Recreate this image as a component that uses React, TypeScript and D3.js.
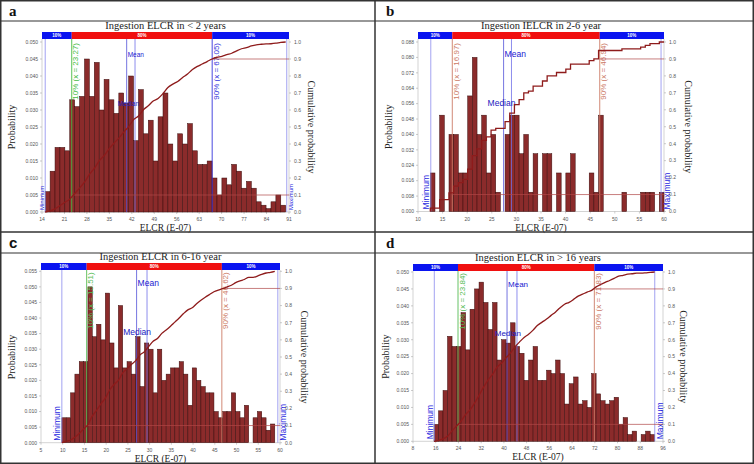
import React from "react";
import * as d3 from "d3";

const W = 754;
const H = 464;

// ---------- data ----------
const panelIds = ["a", "b", "c", "d"];
const titles = [
  "Ingestion ELCR in < 2 years",
  "Ingestion IELCR  in 2-6 year",
  "Ingestion ELCR in 6-16 year",
  "Ingestion ELCR in > 16 years",
];
const aProb = [
  0.006, 0.012, 0.019, 0.019, 0.018, 0.033, 0.031, 0.034, 0.045, 0.034, 0.044, 0.030, 0.039, 0.033, 0.029,
  0.035, 0.032, 0.040, 0.021, 0.036, 0.023, 0.027, 0.015, 0.028, 0.035, 0.020, 0.015, 0.023, 0.020, 0.026,
  0.018, 0.014, 0.014, 0.015, 0.010, 0.005, 0.010, 0.008, 0.014, 0.012, 0.007, 0.009, 0.007, 0.003, 0.002,
  0.001, 0.003, 0.005, 0.002,
];
const bProb = [
  0.02, 0, 0.05, 0, 0.04, 0.04, 0.02, 0.02, 0.06, 0.08, 0.04, 0.05, 0.02, 0.04, 0.01, 0, 0.04, 0.05, 0.05,
  0.03, 0.04, 0.01, 0.03, 0, 0.03, 0.03, 0, 0.02, 0, 0.02, 0.03, 0, 0, 0, 0.02, 0.01, 0.05, 0, 0, 0, 0, 0.01,
  0, 0, 0, 0.01, 0.01, 0.01, 0, 0.01,
];
const cProb = [
  0.008, 0.008, 0.016, 0.022, 0.026, 0.026, 0.050, 0.034, 0.038, 0.033, 0.048, 0.032, 0.024, 0.044, 0.024,
  0.026, 0.022, 0.034, 0.018, 0.032, 0.030, 0.016, 0.030, 0.020, 0.022, 0.024, 0.024, 0.026, 0.022, 0.012,
  0.024, 0.020, 0.018, 0.016, 0.016, 0.010, 0.008, 0.010, 0.010, 0.016, 0.010, 0.008, 0.012, 0, 0.008, 0.010,
  0.008, 0.004, 0.006,
];
const dProb = [
  0.005, 0.009, 0.015, 0.031, 0.028, 0.028, 0.038, 0.027, 0.039, 0.045, 0.047, 0.041, 0.033, 0.041, 0.024,
  0.030, 0.029, 0.035, 0.028, 0.026, 0.018, 0.024, 0.028, 0.018, 0.018, 0.021, 0.020, 0.024, 0.020, 0.011,
  0.017, 0.019, 0.011, 0.012, 0.010, 0.020, 0.014, 0.012, 0.011, 0.012, 0.013, 0.005, 0.007, 0.002, 0.003, 0,
  0.002, 0.003, 0.002,
];
const probSeries = [aProb, bProb, cProb, dProb];
const binStart = [15, 12.5, 9.8, 15.4];
const binWidth = [1.53, 0.95, 1.0, 1.585];
const xDomains = [[14, 91], [10, 60], [5, 60], [8, 96]];
const aTicks = [14, 21, 28, 35, 42, 49, 56, 63, 70, 77, 84, 91];
const bTicks = [10, 15, 20, 25, 30, 35, 40, 45, 50, 55, 60];
const cTicks = [5, 10, 15, 20, 25, 30, 35, 40, 45, 50, 55, 60];
const dTicks = [8, 16, 24, 32, 40, 48, 56, 64, 72, 80, 88, 96];
const xTickSets = [aTicks, bTicks, cTicks, dTicks];
const yMax = [0.05, 0.088, 0.055, 0.05];
const yStep = [0.005, 0.008, 0.005, 0.005];
const cumTicks = [0, 0.1, 0.2, 0.3, 0.4, 0.5, 0.6, 0.7, 0.8, 0.9, 1.0];
const p10 = [23.27, 16.97, 15.51, 23.84];
const p90 = [67.05, 46.94, 46.62, 71.83];
const minVals = [15.0, 12.6, 9.8, 15.5];
const maxVals = [90.3, 59.4, 59.5, 93.1];
const medians = [40.4, 27.4, 27.0, 41.1];
const means = [43.0, 29.0, 29.4, 44.6];
const bandLabels = ["10%", "80%", "10%"];
const xTitle = "ELCR (E-07)";

// ---------- layout / style ----------
const layouts = [
  { left: 42, right: 289, top: 42, bottom: 212, bandTop: 32, x0: 0, y0: 0, yl: 27, yr: 19 },
  { left: 418, right: 664, top: 42, bottom: 211.5, bandTop: 32, x0: 377, y0: 0, yl: 26, yr: 21 },
  { left: 41, right: 280, top: 271.3, bottom: 442.7, bandTop: 263, x0: 0, y0: 232, yl: 26, yr: 21 },
  { left: 413, right: 663, top: 272, bottom: 441.3, bandTop: 264, x0: 377, y0: 232, yl: 24, yr: 17 },
];
const labelFont = [6.5, 8.5, 8.5, 8];
const minmaxFont = [6, 8.5, 8.5, 8.5];
const p10Color = ["#44bb44", "#cc7a66", "#55bb55", "#55bb55"];
const p90Color = ["#3535dd", "#cc7a66", "#cc7a66", "#cc7a66"];
const letterFont = ["Liberation Serif", "Liberation Serif", "Liberation Sans", "Liberation Serif"];
const SERIF = "Liberation Serif, Times New Roman, serif";
const SANS = "Liberation Sans, Arial, sans-serif";

function Panel({ i }: { i: number }) {
  const L = layouts[i];
  const probs = probSeries[i];
  const x = d3.scaleLinear().domain(xDomains[i]).range([L.left, L.right]);
  const y = d3.scaleLinear().domain([0, yMax[i]]).range([L.bottom, L.top]);
  const yc = d3.scaleLinear().domain([0, 1]).range([L.bottom, L.top]);
  const total = d3.sum(probs);
  const cum = Array.from(d3.cumsum(probs));
  const pts: [number, number][] = [[binStart[i], 0]];
  cum.forEach((c, k) => pts.push([binStart[i] + (k + 1) * binWidth[i], c / total]));
  const line = d3
    .line<[number, number]>()
    .x((d) => x(d[0]))
    .y((d) => yc(d[1]))
    .curve(i === 1 ? d3.curveStepBefore : d3.curveMonotoneX);
  const nY = Math.round(yMax[i] / yStep[i]);
  const yTicks = d3.range(nY + 1).map((k) => k * yStep[i]);
  const fmtY = d3.format(".3f");
  const fmtC = d3.format(".1f");
  const bandH = 7;
  const vTop = L.bandTop + bandH;
  const midX = (L.left + L.right) / 2;
  const midY = (L.top + L.bottom) / 2;
  const segs = [
    [L.left, x(p10[i])],
    [x(p10[i]), x(p90[i])],
    [x(p90[i]), L.right],
  ];
  const segColors = ["#0a14f0", "#f01010", "#0a14f0"];
  const lf = labelFont[i];
  const mf = minmaxFont[i];
  const pf = 8;

  return (
    <g>
      <text x={L.x0 + 9} y={L.y0 + 16} fontFamily={letterFont[i]} fontWeight="bold" fontSize={15} fill="#111">
        {panelIds[i]}
      </text>
      <text x={midX} y={L.bandTop - 3} textAnchor="middle" fontFamily={SERIF} fontSize={10.5} fill="#222">
        {titles[i]}
      </text>
      {segs.map((s, k) => (
        <g key={"seg" + k}>
          <rect x={s[0]} y={L.bandTop} width={s[1] - s[0]} height={bandH} fill={segColors[k]} />
          <text
            x={(s[0] + s[1]) / 2}
            y={L.bandTop + 5}
            textAnchor="middle"
            fontFamily={SANS}
            fontSize={4.5}
            fontWeight="bold"
            fill="#fff"
          >
            {bandLabels[k]}
          </text>
        </g>
      ))}
      <line x1={L.left} x2={L.left} y1={vTop} y2={L.bottom} stroke="#c8c8c8" strokeWidth={0.8} />
      <line x1={L.right} x2={L.right} y1={vTop} y2={L.bottom} stroke="#c8c8c8" strokeWidth={0.8} />
      <line x1={L.left} x2={L.right} y1={L.bottom} y2={L.bottom} stroke="#c8c8c8" strokeWidth={0.8} />
      {yTicks.map((t) => (
        <g key={"yt" + t}>
          <line x1={L.left - 2} x2={L.left} y1={y(t)} y2={y(t)} stroke="#aaa" strokeWidth={0.6} />
          <text x={L.left - 4} y={y(t) + 1.8} textAnchor="end" fontFamily={SANS} fontSize={5} fill="#555">
            {fmtY(t)}
          </text>
        </g>
      ))}
      {cumTicks.map((t) => (
        <g key={"ct" + t}>
          <line x1={L.right} x2={L.right + 2} y1={yc(t)} y2={yc(t)} stroke="#aaa" strokeWidth={0.6} />
          <text x={L.right + 5} y={yc(t) + 1.8} fontFamily={SANS} fontSize={5} fill="#555">
            {fmtC(t)}
          </text>
        </g>
      ))}
      {xTickSets[i].map((t) => (
        <g key={"xt" + t}>
          <line x1={x(t)} x2={x(t)} y1={L.bottom} y2={L.bottom + 2} stroke="#aaa" strokeWidth={0.6} />
          <text x={x(t)} y={L.bottom + 9} textAnchor="middle" fontFamily={SANS} fontSize={5} fill="#555">
            {t}
          </text>
        </g>
      ))}
      <text
        transform={`translate(${L.left - L.yl},${midY}) rotate(-90)`}
        textAnchor="middle"
        fontFamily={SERIF}
        fontSize={10}
        fill="#222"
      >
        Probability
      </text>
      <text
        transform={`translate(${L.right + L.yr},${midY}) rotate(90)`}
        textAnchor="middle"
        fontFamily={SERIF}
        fontSize={10}
        fill="#222"
      >
        Cumulative probability
      </text>
      <text x={midX} y={L.bottom + 19} textAnchor="middle" fontFamily={SERIF} fontSize={9.5} fill="#222">
        {xTitle}
      </text>
      {probs.map((p, k) =>
        p > 0 ? (
          <rect
            key={"b" + k}
            x={x(binStart[i] + k * binWidth[i])}
            y={y(p)}
            width={x(binStart[i] + (k + 1) * binWidth[i]) - x(binStart[i] + k * binWidth[i])}
            height={L.bottom - y(p)}
            fill="#8b2b2b"
            stroke="#3a0c0c"
            strokeWidth={0.5}
          />
        ) : null
      )}
      <line x1={x(minVals[i])} x2={x(minVals[i])} y1={vTop} y2={L.bottom} stroke="#8a8aee" strokeWidth={0.8} />
      <line x1={x(maxVals[i])} x2={x(maxVals[i])} y1={vTop} y2={L.bottom} stroke="#8a8aee" strokeWidth={0.8} />
      <text
        transform={`translate(${x(minVals[i]) - 1.5},${L.bottom - 2}) rotate(-90)`}
        fontFamily={SANS}
        fontSize={mf}
        fill="#2a2ae0"
      >
        Minimum
      </text>
      <text
        transform={`translate(${x(maxVals[i]) + mf},${L.bottom - 2}) rotate(-90)`}
        fontFamily={SANS}
        fontSize={mf}
        fill="#2a2ae0"
      >
        Maximum
      </text>
      <line x1={x(medians[i])} x2={x(medians[i])} y1={vTop} y2={L.bottom} stroke="#5050d8" strokeWidth={0.8} />
      <line x1={x(means[i])} x2={x(means[i])} y1={vTop} y2={L.bottom} stroke="#7070e8" strokeWidth={0.8} />
      <text x={x(medians[i]) + 1} y={L.top + 15} fontFamily={SANS} fontSize={lf} fill="#2020d0">
        Mean
      </text>
      <text x={x(means[i]) + 4} y={L.top + 64} textAnchor="end" fontFamily={SANS} fontSize={lf} fill="#2020c0">
        Median
      </text>
      <line x1={x(p10[i])} x2={x(p10[i])} y1={vTop} y2={L.bottom} stroke={p10Color[i]} strokeWidth={0.9} />
      <line x1={x(p90[i])} x2={x(p90[i])} y1={vTop} y2={L.bottom} stroke={p90Color[i]} strokeWidth={0.9} />
      <text
        transform={`translate(${x(p10[i]) + 6.5},${L.top + 1}) rotate(-90)`}
        textAnchor="end"
        fontFamily={SANS}
        fontSize={pf}
        fill={p10Color[i]}
      >
        {`10%  (x = ${p10[i].toFixed(2)})`}
      </text>
      <text
        transform={`translate(${x(p90[i]) + 6.5},${L.top + 1}) rotate(-90)`}
        textAnchor="end"
        fontFamily={SANS}
        fontSize={pf}
        fill={p90Color[i]}
      >
        {`90%  (x = ${p90[i].toFixed(2)})`}
      </text>
      <line x1={x(p10[i])} x2={L.right} y1={yc(0.1)} y2={yc(0.1)} stroke="#b04848" strokeWidth={0.7} />
      <line x1={x(p90[i])} x2={L.right} y1={yc(0.9)} y2={yc(0.9)} stroke="#b04848" strokeWidth={0.7} />
      <path d={line(pts) || ""} fill="none" stroke="#8e1b1b" strokeWidth={1.3} />
    </g>
  );
}

export default function App() {
  return (
    <svg
      width={W}
      height={H}
      style={{ position: "absolute", left: 0, top: 0, background: "#fff" }}
      xmlns="http://www.w3.org/2000/svg"
    >
      <rect x={0} y={0} width={W} height={H} fill="#fff" />
      {[0, 1, 2, 3].map((i) => (
        <Panel key={i} i={i} />
      ))}
      <rect x={0.75} y={0.75} width={W - 1.5} height={H - 1.5} fill="none" stroke="#333" strokeWidth={1.5} />
      <line x1={375} x2={375} y1={0} y2={H} stroke="#333" strokeWidth={1.5} />
      <line x1={0} x2={W} y1={232} y2={232} stroke="#333" strokeWidth={1.5} />
      <line x1={0} x2={W} y1={21} y2={21} stroke="#333" strokeWidth={1.2} />
      <line x1={0} x2={W} y1={253} y2={253} stroke="#333" strokeWidth={1.2} />
    </svg>
  );
}
